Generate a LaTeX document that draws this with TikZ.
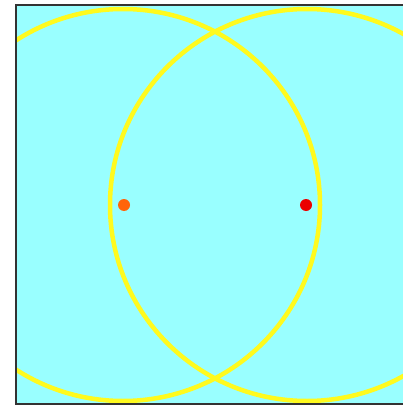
\documentclass[tikz,border=0pt]{standalone}
\usepackage{tikz}
\usetikzlibrary{positioning}

\definecolor{paneBg}{RGB}{153,255,255}
\definecolor{ringYellow}{RGB}{255,250,30}
\definecolor{dotOrange}{RGB}{255,100,10}
\definecolor{dotRed}{RGB}{235,0,0}

\begin{document}
\begin{tikzpicture}[
    x=1pt, y=-1pt,
    ring/.style={draw=ringYellow, line width=4.5pt},
    focus/.style={circle, inner sep=0pt, minimum size=12pt},
    frameline/.style={draw=black!80, line width=2pt}
]
\useasboundingbox (0,0) rectangle (403,406);

% Pane
\fill[paneBg] (16,5) rectangle (403,404);

% Centres
\coordinate (cl) at (123,205);
\coordinate (cr) at (307,205);

% Rings
\begin{scope}
\clip (16,5) rectangle (403,404);
\draw[ring] (cl) circle[x radius=197, y radius=196];
\draw[ring] (cr) circle[x radius=197, y radius=196];
\end{scope}

% Foci
\node[focus, fill=dotOrange] (fl) at (124,205) {};
\node[focus, fill=dotRed] (fr) at (306,205) {};

% Frame
\draw[frameline] (403,5) -- (16,5) -- (16,404) -- (403,404);
\end{tikzpicture}
\end{document}
